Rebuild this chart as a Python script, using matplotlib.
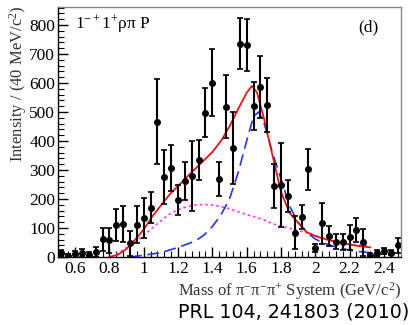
import matplotlib
matplotlib.use("Agg")
import matplotlib.pyplot as plt
from matplotlib.ticker import MultipleLocator

plt.rcParams['font.family'] = 'Liberation Serif'
plt.rcParams['mathtext.fontset'] = 'custom'
plt.rcParams['mathtext.rm'] = 'Liberation Serif'
plt.rcParams['mathtext.it'] = 'Liberation Serif:italic'

# data points (40 MeV bins)
mass = [0.52, 0.56, 0.60, 0.64, 0.68, 0.72, 0.76, 0.80, 0.84, 0.88,
        0.92, 0.96, 1.00, 1.04, 1.08, 1.12, 1.16, 1.20, 1.24, 1.28,
        1.32, 1.36, 1.40, 1.44, 1.48, 1.52, 1.56, 1.60, 1.64, 1.68,
        1.72, 1.76, 1.80, 1.84, 1.88, 1.92, 1.96, 2.00, 2.04, 2.08,
        2.12, 2.16, 2.20, 2.24, 2.28, 2.32, 2.36, 2.40, 2.44, 2.48]
intensity = [15, 5, 9, 15, 8, 18, 61, 57, 109, 113,
             47, 111, 135, 170, 467, 277, 307, 197, 261, 280,
             334, 498, 601, 268, 518, 375, 736, 731, 521, 587,
             524, 245, 247, 211, 84, 137, 302, 30, 116, 72,
             53, 53, 68, 93, 51, 7, 15, 21, 15, 41]
errors = [10, 6, 12, 14, 8, 18, 40, 42, 55, 62,
          43, 64, 68, 53, 147, 93, 80, 51, 66, 120,
          69, 83, 115, 59, 108, 124, 87, 88, 82, 107,
          92, 76, 145, 55, 56, 42, 72, 14, 70, 35,
          27, 28, 43, 40, 47, 5, 10, 10, 8, 26]

# fit curves
total_m = [0.80, 0.85, 0.90, 0.95, 1.00, 1.05, 1.10, 1.15, 1.20, 1.25,
           1.30, 1.35, 1.40, 1.45, 1.50, 1.55, 1.60, 1.63, 1.66, 1.70,
           1.75, 1.80, 1.85, 1.90, 1.95, 2.00, 2.05, 2.10, 2.15, 2.20,
           2.25, 2.32]
total = [0, 8, 28, 60, 95, 140, 178, 215, 245, 275,
         304, 333, 362, 400, 450, 510, 566, 590, 568, 480,
         352, 225, 152, 118, 86, 72, 63, 55, 49, 43,
         38, 33]

bw_m = [0.92, 1.00, 1.10, 1.20, 1.30, 1.35, 1.40, 1.45, 1.50, 1.55,
        1.60, 1.64, 1.67, 1.70, 1.75, 1.80, 1.85, 1.90, 1.95, 2.00,
        2.05, 2.10, 2.15, 2.20, 2.25, 2.32]
bw = [0, 6, 15, 33, 55, 75, 105, 145, 200, 290,
      400, 485, 500, 465, 360, 270, 175, 120, 85, 62,
      48, 38, 30, 24, 19, 15]

bg_m = [0.81, 0.85, 0.90, 0.95, 1.00, 1.05, 1.10, 1.15, 1.20, 1.25,
        1.30, 1.35, 1.40, 1.45, 1.50, 1.55, 1.60, 1.65, 1.70, 1.75,
        1.80, 1.85, 1.90, 1.95, 2.00, 2.05, 2.10, 2.15, 2.20, 2.25,
        2.32]
bg = [0, 12, 32, 52, 75, 100, 125, 148, 163, 173,
      179, 181, 179, 174, 166, 156, 146, 138, 128, 115,
      106, 99, 91, 83, 74, 65, 57, 50, 45, 41,
      38]

fig = plt.figure(figsize=(4.13, 3.25), dpi=100)
ax = fig.add_axes([58/413, 68/325, 343/413, 250/325])

ax.plot(bg_m, bg, color='#ff33ff', lw=1.2, linestyle=(0, (1.5, 1.8)))
ax.plot(bw_m, bw, color='#2233ff', lw=1.2, linestyle=(0, (7, 3.5)))
ax.plot(total_m, total, color='red', lw=1.2)
ax.errorbar(mass, intensity, yerr=errors, fmt='o', color='black',
            markersize=4, elinewidth=1.5, capsize=2, capthick=1.2)

ax.set_xlim(0.5, 2.5)
ax.set_ylim(0, 862)
ax.xaxis.set_major_locator(MultipleLocator(0.2))
ax.xaxis.set_minor_locator(MultipleLocator(0.04))
ax.yaxis.set_major_locator(MultipleLocator(100))
ax.yaxis.set_minor_locator(MultipleLocator(20))
ax.set_xticks([0.6, 0.8, 1.0, 1.2, 1.4, 1.6, 1.8, 2.0, 2.2, 2.4])
ax.set_xticklabels(['0.6', '0.8', '1', '1.2', '1.4', '1.6', '1.8', '2', '2.2', '2.4'])
ax.tick_params(which='both', direction='in', top=False, right=False, labelsize=12.5)
ax.tick_params(which='major', length=7, width=1)
ax.tick_params(which='minor', length=4, width=0.8)
ax.tick_params(axis='y', pad=2)
ax.tick_params(axis='x', pad=3)
for s in ['top', 'right']:
    ax.spines[s].set_color('#888888')
for s in ax.spines.values():
    s.set_linewidth(1)

ax.text(0.05, 0.93, '1$^{-+}$1$^{+}$ρπ P', transform=ax.transAxes,
        fontsize=12.5, va='center', ha='left')
ax.text(0.905, 0.92, '(d)', transform=ax.transAxes, fontsize=12.5,
        va='center', ha='center')

fig.text(18/413, 1 - 5/325, 'Intensity / (40 MeV/c$^{2}$)', rotation=90,
         ha='center', va='top', fontsize=12, color='#333333')
fig.text(401/413, 1 - 296/325, 'Mass of π$^{-}$π$^{-}$π$^{+}$ System (GeV/c$^{2}$)',
         ha='right', va='baseline', fontsize=12, color='#333333')
fig.text(409/413, 1 - 318/325, 'PRL 104, 241803 (2010)', family='DejaVu Sans',
         ha='right', va='baseline', fontsize=13.7)

fig.savefig('out.png', dpi=100)
